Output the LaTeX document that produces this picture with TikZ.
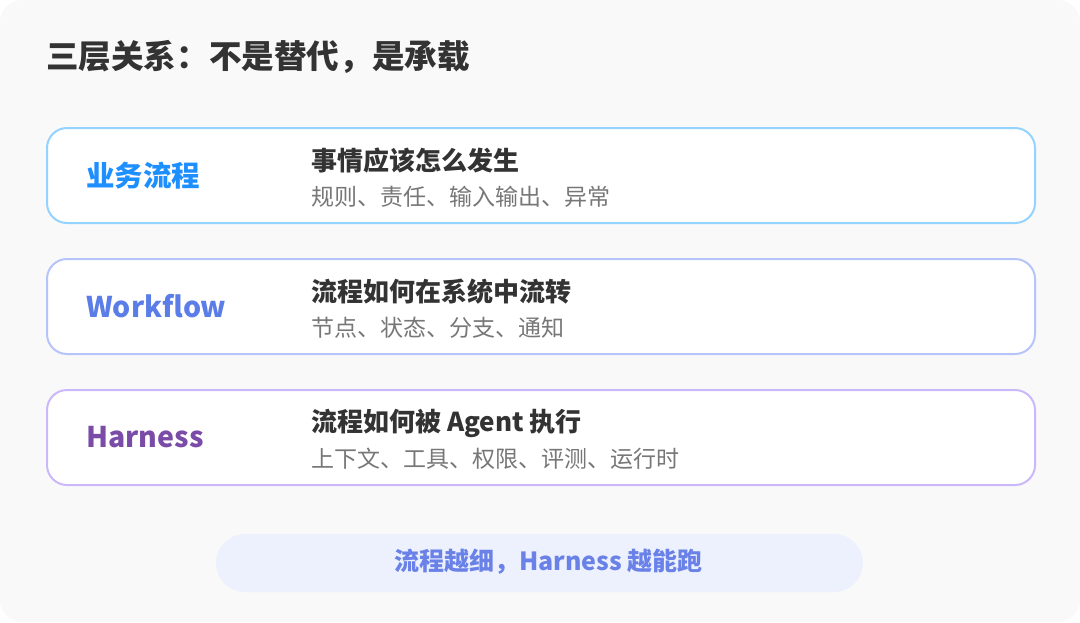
\documentclass[tikz,border=0pt]{standalone}
\usepackage{fontspec}
\setmainfont{Noto Sans CJK SC}
\usetikzlibrary{positioning}
\definecolor{cardbg}{HTML}{F9F9F9}
\definecolor{inkdark}{HTML}{333333}
\definecolor{inkgray}{HTML}{777777}
\definecolor{lnbiz}{HTML}{93D3FF}
\definecolor{txbiz}{HTML}{1E8FFF}
\definecolor{lnwf}{HTML}{B7C4FA}
\definecolor{txwf}{HTML}{5B7DE8}
\definecolor{lnhar}{HTML}{CBB8FB}
\definecolor{txhar}{HTML}{7A4CA8}
\definecolor{pillbg}{HTML}{EDF1FE}
\definecolor{txpill}{HTML}{6A82E8}

\begin{document}
\begin{tikzpicture}[x=1pt,y=-1pt,
    layer/.style={draw,line width=2pt,fill=white,rounded corners=20pt,
        minimum width=988pt,minimum height=95pt,inner sep=0pt,anchor=north west},
    tag/.style={anchor=west,inner sep=0pt,font=\bfseries\fontsize{28.5}{28.5}\selectfont},
    head/.style={anchor=west,inner sep=0pt,text=inkdark,font=\bfseries\fontsize{26}{26}\selectfont},
    sub/.style={anchor=west,inner sep=0pt,text=inkgray,font=\fontsize{23}{23}\selectfont}]
    \useasboundingbox (0,0) rectangle (1080,622);
    \fill [white] (0,0) rectangle (1080,622);
    \fill [cardbg,rounded corners=22pt] (0,0) rectangle (1080,622);
    \node [anchor=west,inner sep=0pt,text=inkdark,font=\bfseries\fontsize{32.6}{32.6}\selectfont]
        (title) at (46,57) {三层关系：不是替代，是承载};
    \foreach \i/\c/\lbl/\hd/\sb in {0/biz/业务流程/事情应该怎么发生/规则、责任、输入输出、异常,
        1/wf/Workflow/流程如何在系统中流转/节点、状态、分支、通知,
        2/har/Harness/流程如何被 Agent 执行/上下文、工具、权限、评测、运行时}{
        \node [layer,draw=ln\c] (layer\i) at (46,{127+131*\i}) {};
        \node [tag,text=tx\c] (tag\i) at ([xshift=40pt]layer\i.west) {\lbl};
        \node [head] (head\i) at ([xshift=265pt,yshift=14.5pt]layer\i.west) {\hd};
        \node [sub] (sub\i) at ([xshift=265pt,yshift=-21.5pt]layer\i.west) {\sb};
    }
    \node [fill=pillbg,rounded corners=29pt,minimum width=647pt,minimum height=58pt,inner sep=0pt]
        (pill) at (539.5,563) {};
    \node [text=txpill,font=\bfseries\fontsize{25}{25}\selectfont,inner sep=0pt]
        (moral) at ([xshift=9pt,yshift=1pt]pill.center) {流程越细，Harness 越能跑};
\end{tikzpicture}
\end{document}
